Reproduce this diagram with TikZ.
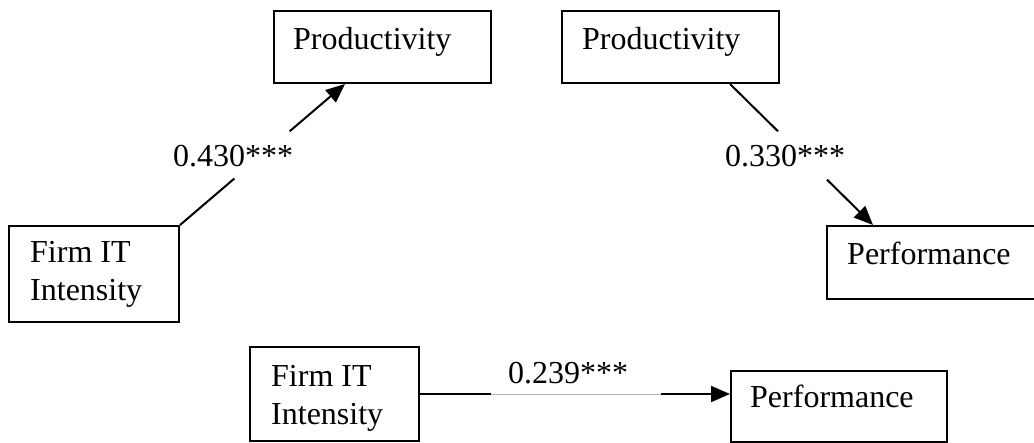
\documentclass[tikz,border=0pt]{standalone}
\usepackage{fontspec}
\setmainfont{Liberation Serif}
\usetikzlibrary{arrows.meta,calc}

\begin{document}
\begin{tikzpicture}[x=1pt,y=-1pt,
  box/.style={draw, line width=2pt, inner sep=0pt, anchor=north west},
  txt/.style={font=\fontsize{32}{37.5}\selectfont, inner sep=0pt, anchor=base west},
  conn/.style={line width=2pt},
  arr/.style={conn, -{Triangle[length=19pt,width=16pt]}},
  faint/.style={line width=0.6pt, draw=black!30}]

\useasboundingbox (0,0) rectangle (1034,443);

% boxes
\node[box, minimum width=217pt, minimum height=72pt] (p1) at (273,10) {};
\node[box, minimum width=217pt, minimum height=72pt] (p2) at (561,10) {};
\node[box, minimum width=170pt, minimum height=96pt] (f1) at (8,225) {};
\node[box, minimum width=216pt, minimum height=73pt] (r1) at (826,225) {};
\node[box, minimum width=169pt, minimum height=94pt] (f2) at (249,346) {};
\node[box, minimum width=216pt, minimum height=71pt] (r2) at (730,370) {};

% box texts
\node[txt] (p1t) at (293,50) {Productivity};
\node[txt] (p2t) at (582,50) {Productivity};
\node[txt] (f1t) at (30,263) {\vtop{\hbox{Firm IT}\hbox{Intensity}}};
\node[txt] (r1t) at (847,265) {Performance};
\node[txt] (f2t) at (271,387) {\vtop{\hbox{Firm IT}\hbox{Intensity}}};
\node[txt] (r2t) at (750,408) {Performance};

% path coefficients
\node[txt] (c1) at (173,167) {0.430***};
\node[txt] (c2) at (725,167) {0.330***};
\node[txt] (c3) at (508,384) {0.239***};

% IT intensity -> productivity
\coordinate (t1) at ([xshift=72pt]p1.south west);
\coordinate (a1) at ($(f1.north east)!0.33!(t1)$);
\coordinate (b1) at ($(f1.north east)!0.665!(t1)$);
\draw[conn] (f1.north east) -- (a1);
\draw[arr] (b1) -- (t1);

% productivity -> performance
\coordinate (s2) at ([xshift=169pt]p2.south west);
\coordinate (t2) at ([xshift=47pt]r1.north west);
\coordinate (a2) at ($(s2)!0.336!(t2)$);
\coordinate (b2) at ($(s2)!0.678!(t2)$);
\draw[conn] (s2) -- (a2);
\draw[arr] (b2) -- (t2);

% IT intensity -> performance
\coordinate (t3) at (f2.east -| r2.west);
\coordinate (a3) at ($(f2.east)!0.23!(t3)$);
\coordinate (b3) at ($(f2.east)!0.776!(t3)$);
\draw[conn] (f2.east) -- (a3);
\draw[faint] (a3) -- (b3);
\draw[arr] (b3) -- (t3);

\end{tikzpicture}
\end{document}
